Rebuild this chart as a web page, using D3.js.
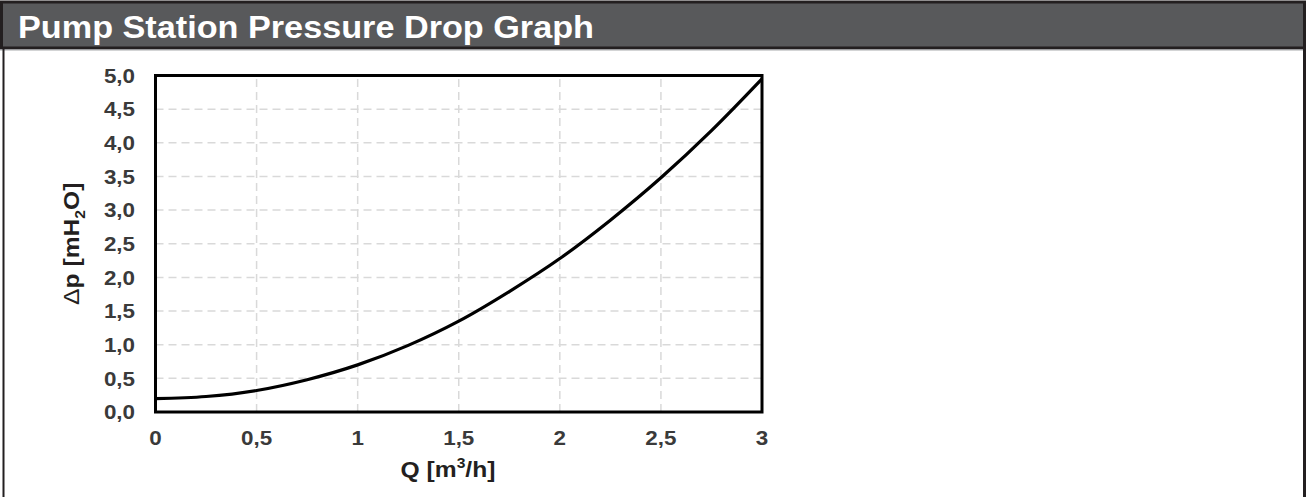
<!DOCTYPE html>
<html>
<head>
<meta charset="utf-8">
<script src="https://cdn.jsdelivr.net/npm/d3@7/dist/d3.min.js"></script>
<style>
  html, body { margin: 0; padding: 0; background: #fff; }
  svg { display: block; }
  text { font-family: "Liberation Sans", Arial, sans-serif; }
</style>
</head>
<body>
<script>
// ---- data ----
const title = "Pump Station Pressure Drop Graph";
const flowQ = [0, 0.25, 0.5, 0.75, 1, 1.25, 1.5, 1.75, 2, 2.25, 2.5, 2.75, 3];
const pressureDrop = [0.20, 0.23, 0.32, 0.48, 0.70, 0.99, 1.35, 1.79, 2.28, 2.85, 3.48, 4.18, 4.95];
const xTicks = [0, 0.5, 1, 1.5, 2, 2.5, 3];
const xTickLabels = ["0", "0,5", "1", "1,5", "2", "2,5", "3"];
const yTicks = [0, 0.5, 1, 1.5, 2, 2.5, 3, 3.5, 4, 4.5, 5];
const yTickLabels = ["0,0", "0,5", "1,0", "1,5", "2,0", "2,5", "3,0", "3,5", "4,0", "4,5", "5,0"];

const W = 1306, H = 497;
const svg = d3.select("body").append("svg").attr("width", W).attr("height", H);

// outer frame + title bar
svg.append("rect").attr("x", 0).attr("y", 0).attr("width", W).attr("height", H).attr("fill", "#fff");
svg.append("rect").attr("x", 1.5).attr("y", 2).attr("width", W - 3).attr("height", 46)
  .attr("fill", "#58595b").attr("stroke", "#231f20").attr("stroke-width", 3);
svg.append("line").attr("x1", 0).attr("x2", W).attr("y1", 50).attr("y2", 50)
  .attr("stroke", "#a7a9ac").attr("stroke-width", 1);
svg.append("line").attr("x1", 3.5).attr("x2", 3.5).attr("y1", 48).attr("y2", H)
  .attr("stroke", "#231f20").attr("stroke-width", 2);
svg.append("line").attr("x1", W - 1.5).attr("x2", W - 1.5).attr("y1", 48).attr("y2", H)
  .attr("stroke", "#231f20").attr("stroke-width", 3);
svg.append("text").attr("x", 18).attr("y", 38).attr("fill", "#fff")
  .attr("font-size", 32).attr("font-weight", "bold")
  .attr("textLength", 576).attr("lengthAdjust", "spacingAndGlyphs").text(title);

// plot
const x = d3.scaleLinear().domain([0, 3]).range([155.5, 762]);
const y = d3.scaleLinear().domain([0, 5]).range([412, 75.5]);

const g = svg.append("g");
// grid
g.selectAll(".vg").data(xTicks.slice(1, -1)).join("line")
  .attr("x1", d => x(d)).attr("x2", d => x(d)).attr("y1", y(0)).attr("y2", y(5))
  .attr("stroke", "#d9d9d9").attr("stroke-width", 1.5).attr("stroke-dasharray", "8,5");
g.selectAll(".hg").data(yTicks.slice(1, -1)).join("line")
  .attr("x1", x(0)).attr("x2", x(3)).attr("y1", d => y(d)).attr("y2", d => y(d))
  .attr("stroke", "#d9d9d9").attr("stroke-width", 1.5).attr("stroke-dasharray", "8,5");

// curve
const line = d3.line().x((d, i) => x(flowQ[i])).y(d => y(d)).curve(d3.curveMonotoneX);
g.append("path").datum(pressureDrop).attr("d", line)
  .attr("fill", "none").attr("stroke", "#000").attr("stroke-width", 3.2);

// frame
g.append("rect").attr("x", x(0)).attr("y", y(5)).attr("width", x(3) - x(0)).attr("height", y(0) - y(5))
  .attr("fill", "none").attr("stroke", "#000").attr("stroke-width", 3);

// y tick labels
g.selectAll(".yt").data(yTicks).join("text")
  .attr("transform", d => `translate(135, ${y(d)}) scale(1.12, 1)`).attr("dy", "0.36em")
  .attr("text-anchor", "end").attr("font-size", 20).attr("font-weight", "bold")
  .attr("fill", "#3a3a3a").text((d, i) => yTickLabels[i]);

// x tick labels
g.selectAll(".xt").data(xTicks).join("text")
  .attr("transform", d => `translate(${x(d)}, 445) scale(1.12, 1)`)
  .attr("text-anchor", "middle").attr("font-size", 20).attr("font-weight", "bold")
  .attr("fill", "#3a3a3a").text((d, i) => xTickLabels[i]);

// x title
const xt = svg.append("text").attr("transform", `translate(448, 477) scale(1.12, 1)`)
  .attr("text-anchor", "middle").attr("font-size", 22).attr("font-weight", "bold").attr("fill", "#231f20");
xt.append("tspan").text("Q [m");
xt.append("tspan").attr("font-size", 14).attr("dy", -9).text("3");
xt.append("tspan").attr("dy", 9).text("/h]");

// y title
const yt = svg.append("text").attr("transform", `translate(79, ${(y(0) + y(5)) / 2}) rotate(-90) scale(1.12, 1)`)
  .attr("text-anchor", "middle").attr("font-size", 22).attr("font-weight", "bold").attr("fill", "#231f20");
yt.append("tspan").attr("font-weight", "normal").text("\u0394");
yt.append("tspan").text("p [mH");
yt.append("tspan").attr("font-size", 14).attr("dy", 6).text("2");
yt.append("tspan").attr("dy", -6).text("O]");
</script>
</body>
</html>
